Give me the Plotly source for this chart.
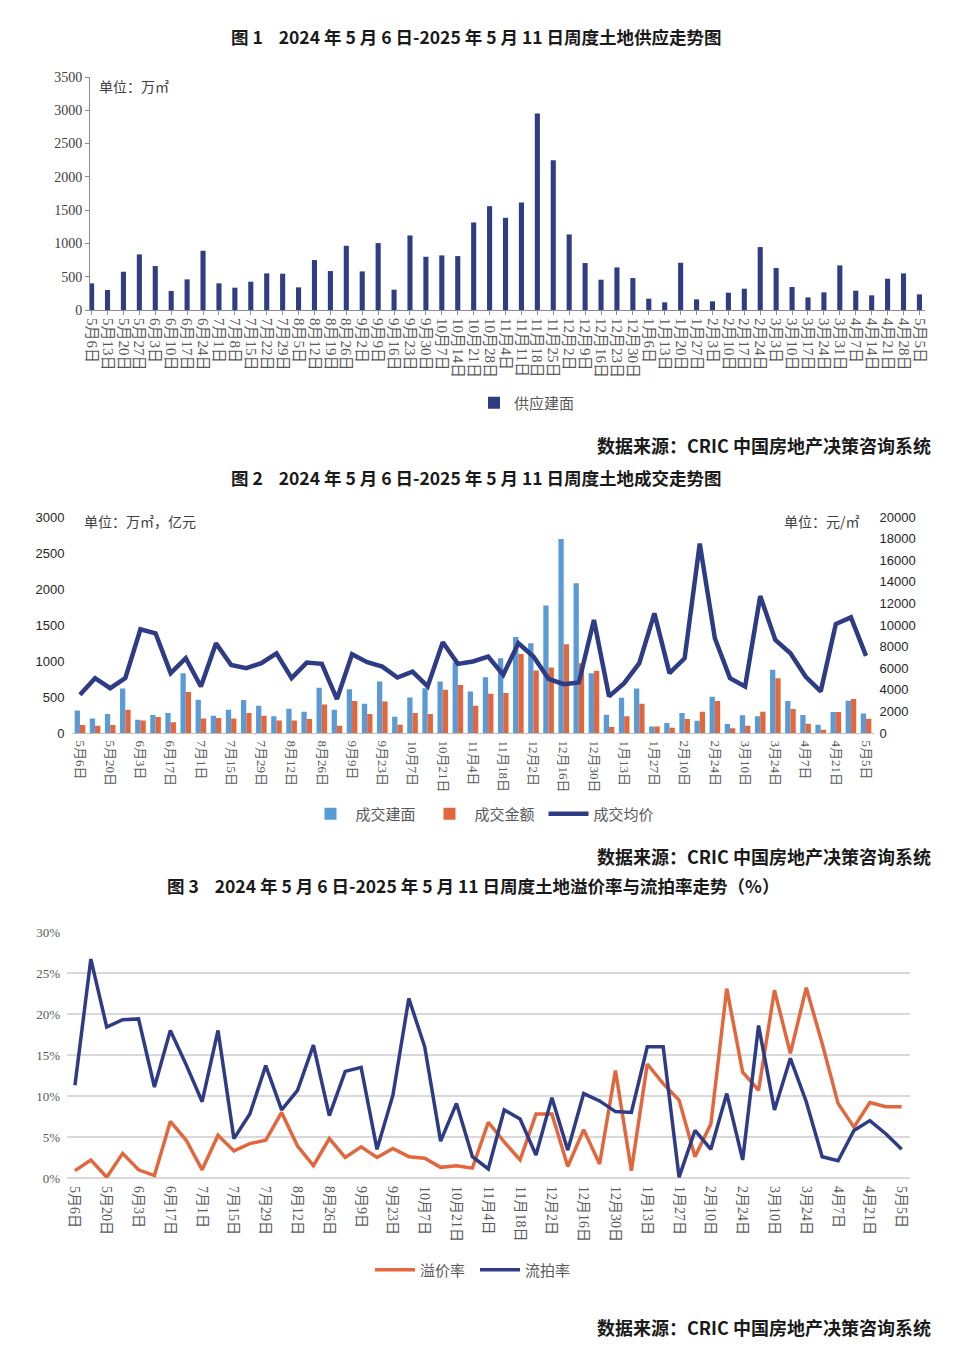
import plotly.graph_objects as go

# ---------------- data ----------------
weeks = ["5月6日", "5月13日", "5月20日", "5月27日", "6月3日", "6月10日", "6月17日", "6月24日",
         "7月1日", "7月8日", "7月15日", "7月22日", "7月29日", "8月5日", "8月12日", "8月19日",
         "8月26日", "9月2日", "9月9日", "9月16日", "9月23日", "9月30日", "10月7日", "10月14日",
         "10月21日", "10月28日", "11月4日", "11月11日", "11月18日", "11月25日", "12月2日", "12月9日",
         "12月16日", "12月23日", "12月30日", "1月6日", "1月13日", "1月20日", "1月27日", "2月3日",
         "2月10日", "2月17日", "2月24日", "3月3日", "3月10日", "3月17日", "3月24日", "3月31日",
         "4月7日", "4月14日", "4月21日", "4月28日", "5月5日"]

supply_area = [400, 300, 575, 835, 660, 285, 460, 890, 400, 335, 425, 550, 545, 340, 750, 585,
               965, 580, 1005, 305, 1120, 800, 820, 810, 1315, 1560, 1385, 1615, 2950, 2250, 1135, 705,
               455, 640, 480, 170, 115, 710, 160, 130, 260, 320, 945, 630, 345, 190, 265, 670,
               290, 220, 470, 550, 235]

deal_area = [314, 203, 263, 618, 185, 249, 277, 831, 461, 240, 323, 457, 378, 231, 337, 295,
             628, 323, 609, 406, 715, 226, 494, 623, 715, 980, 577, 775, 1038, 1334, 1246, 1772,
             2695, 2081, 831, 254, 490, 618, 92, 138, 277, 171, 503, 125, 245, 231, 877, 443,
             249, 115, 291, 448, 272]

deal_amount = [111, 101, 111, 323, 175, 221, 148, 568, 203, 208, 203, 277, 240, 175, 175, 194,
               397, 101, 443, 263, 438, 115, 277, 263, 600, 665, 378, 545, 554, 1098, 868, 909,
               1232, 969, 863, 83, 231, 406, 92, 74, 194, 295, 443, 65, 101, 295, 761, 332,
               129, 46, 291, 471, 198]

deal_price = [3540, 5080, 4150, 5080, 9600, 9230, 5540, 6920, 4300, 8300, 6300, 6000, 6460, 7380, 5080, 6520,
              6400, 3140, 7290, 6550, 6150, 5140, 5690, 4310, 8400, 6400, 6620, 7080, 5390, 8310, 7080, 5020,
              4520, 4680, 10460, 3390, 4620, 6460, 11080, 5540, 6920, 17540, 8770, 5080, 4310, 12680, 8620, 7390,
              5230, 3850, 10090, 10710, 7140]

premium_rate = [0.9, 2.2, 0.1, 3.0, 1.0, 0.3, 6.9, 4.6, 1.0, 5.2, 3.3, 4.2, 4.6, 8.0, 3.9, 1.5,
                4.8, 2.5, 3.8, 2.5, 3.6, 2.6, 2.4, 1.3, 1.5, 1.2, 6.8, 4.4, 2.2, 7.8, 7.8, 1.4,
                5.9, 1.7, 13.1, 0.9, 13.9, 11.5, 9.5, 2.6, 6.6, 23.1, 12.9, 10.7, 22.9, 15.2, 23.2, 16.4,
                9.1, 6.2, 9.2, 8.7, 8.7]

fail_rate = [11.3, 26.7, 18.4, 19.3, 19.4, 11.1, 18.0, 13.8, 9.3, 18.0, 4.8, 7.8, 13.7, 8.3, 10.7, 16.2,
             7.6, 13.0, 13.5, 3.5, 10.1, 21.9, 16.0, 4.5, 9.1, 2.6, 1.1, 8.3, 7.2, 2.8, 9.8, 3.4,
             10.3, 9.4, 8.1, 8.0, 16.0, 16.0, 0.1, 5.8, 3.5, 10.3, 2.2, 18.6, 8.3, 14.6, 9.3, 2.6,
             2.1, 5.8, 7.0, 5.4, 3.5]

pct_ticks = [0, 5, 10, 15, 20, 25, 30]
pct_labels = [f"{v}%" for v in pct_ticks]

NB = "\u00a0"
titles = [f"图 1{NB*4}2024 年 5 月 6 日-2025 年 5 月 11 日周度土地供应走势图",
          f"图 2{NB*4}2024 年 5 月 6 日-2025 年 5 月 11 日周度土地成交走势图",
          f"图 3{NB*4}2024 年 5 月 6 日-2025 年 5 月 11 日周度土地溢价率与流拍率走势（%）"]
source_text = "数据来源：CRIC 中国房地产决策咨询系统"

# ---------------- styling ----------------
W, H = 960, 1354
OFF = 8  # page body margin
def fx(p):
    return (p - OFF) / W
def fy(p):
    return 1 - (p - OFF) / H

CJK = "Noto Sans CJK SC"
SERIF = "Liberation Serif, Noto Sans CJK SC"
SANS = "Liberation Sans, Noto Sans CJK SC"
GRAY = "#595959"
NAVY = "#2E3B85"
LBLUE = "#5B9BD5"
ORANGE = "#E2673D"

fig = go.Figure()

# Chart 1
fig.add_trace(go.Bar(x=weeks, y=supply_area, name="供应建面", marker_color="#2F3D82",
                     width=0.32, xaxis="x", yaxis="y", legend="legend"))

# Chart 2
fig.add_trace(go.Bar(x=weeks, y=deal_area, name="成交建面", marker_color=LBLUE,
                     width=0.35, offset=-0.35, xaxis="x2", yaxis="y2", legend="legend2"))
fig.add_trace(go.Bar(x=weeks, y=deal_amount, name="成交金额", marker_color=ORANGE,
                     width=0.35, offset=0.0, xaxis="x2", yaxis="y2", legend="legend2"))
fig.add_trace(go.Scatter(x=weeks, y=deal_price, name="成交均价", mode="lines",
                         line=dict(color=NAVY, width=4.5), xaxis="x2", yaxis="y3", legend="legend2"))

# Chart 3
fig.add_trace(go.Scatter(x=weeks, y=premium_rate, name="溢价率", mode="lines",
                         line=dict(color=ORANGE, width=3.5), xaxis="x3", yaxis="y4", legend="legend3"))
fig.add_trace(go.Scatter(x=weeks, y=fail_rate, name="流拍率", mode="lines",
                         line=dict(color=NAVY, width=3.5), xaxis="x3", yaxis="y4", legend="legend3"))

fig.update_layout(
    template="none",
    width=W, height=H,
    margin=dict(l=0, r=0, t=0, b=0, pad=0),
    paper_bgcolor="white", plot_bgcolor="white",
    font=dict(family=CJK, color="#333333"),
    showlegend=True,
    xaxis=dict(domain=[fx(90), fx(925)], anchor="y", type="category", categoryorder="array",
               categoryarray=weeks, range=[-0.1, 52.35], tickangle=90,
               tickfont=dict(family=SERIF, size=15, color=GRAY), automargin=False,
               showline=True, linecolor="#8c8c8c", linewidth=1, ticks="outside", ticklen=4,
               tickcolor="#8c8c8c", showgrid=False, zeroline=False,
               tickmode="array", tickvals=weeks, ticktext=weeks),
    yaxis=dict(domain=[fy(310), fy(77)], anchor="x", range=[0, 3500], tickvals=list(range(0, 3501, 500)),
               tickfont=dict(family=SERIF, size=14, color="#404040"), showline=True, linecolor="#8c8c8c",
               linewidth=1, ticks="outside", ticklen=4, tickcolor="#8c8c8c", showgrid=False, zeroline=False,
               automargin=False),
    xaxis2=dict(domain=[fx(72.4), fx(873.6)], anchor="y2", type="category", categoryorder="array",
                categoryarray=weeks, range=[-0.5, 52.5], tickangle=90,
                tickfont=dict(family=SERIF, size=13, color=GRAY), automargin=False, ticklabelstandoff=4,
                tickmode="array", tickvals=weeks[::2], ticktext=weeks[::2],
                showline=True, linecolor="#bfbfbf", linewidth=1, ticks="", showgrid=False, zeroline=False),
    yaxis2=dict(domain=[fy(733), fy(517)], anchor="x2", range=[0, 3000], tickvals=list(range(0, 3001, 500)),
                tickformat="d", tickfont=dict(family=SANS, size=13, color="#262626"), showline=False,
                showgrid=False, zeroline=False, ticks="", automargin=False, ticklabelstandoff=7),
    yaxis3=dict(overlaying="y2", side="right", anchor="x2", range=[0, 20000],
                tickvals=list(range(0, 20001, 2000)), tickformat="d",
                tickfont=dict(family=SANS, size=13, color="#262626"), ticklabelstandoff=5,
                showline=False, showgrid=False, zeroline=False, ticks="", automargin=False),
    xaxis3=dict(domain=[fx(67), fx(909.6)], anchor="y4", type="category", categoryorder="array",
                categoryarray=weeks, range=[-0.5, 52.5], tickangle=90,
                tickfont=dict(family=SERIF, size=14, color=GRAY), automargin=False, ticklabelstandoff=7,
                tickmode="array", tickvals=weeks[::2], ticktext=weeks[::2],
                showline=False, ticks="", showgrid=False, zeroline=False),
    yaxis4=dict(domain=[fy(1178), fy(932)], anchor="x3", range=[0, 30], tickvals=pct_ticks, ticktext=pct_labels,
                tickfont=dict(family=SERIF, size=13, color=GRAY), showgrid=True, gridcolor="#D9D9D9",
                gridwidth=1.5, zeroline=True, zerolinecolor="#D9D9D9", zerolinewidth=1.5, ticks="",
                showline=False, automargin=False, ticklabelstandoff=6),
    legend=dict(orientation="h", x=fx(527), y=fy(403), xanchor="center", yanchor="middle",
                font=dict(family=CJK, size=15, color=GRAY), bgcolor="rgba(0,0,0,0)"),
    legend2=dict(orientation="h", x=fx(484), y=fy(814), xanchor="center", yanchor="middle",
                 font=dict(family=CJK, size=15, color=GRAY), itemwidth=40, entrywidth=64,
                 bgcolor="rgba(0,0,0,0)", traceorder="normal"),
    legend3=dict(orientation="h", x=fx(475), y=fy(1270), xanchor="center", yanchor="middle",
                 font=dict(family=CJK, size=15, color=GRAY), itemwidth=40, entrywidth=50,
                 bgcolor="rgba(0,0,0,0)", traceorder="normal"),
)

ann = []
title_y = [36, 477, 886]
title_x = [476, 476, 473]
for t, xx, yy in zip(titles, title_x, title_y):
    ann.append(dict(text=t, x=fx(xx), y=fy(yy), xref="paper", yref="paper", showarrow=False,
                    xanchor="center", yanchor="middle",
                    font=dict(family=CJK, size=17.5, color="#1a1a1a", weight=700)))
for yy in [445, 856, 1327]:
    ann.append(dict(text=source_text, x=fx(933), y=fy(yy), xref="paper", yref="paper", showarrow=False,
                    xanchor="right", yanchor="middle",
                    font=dict(family=CJK, size=18, color="#1a1a1a", weight=700)))
ann.append(dict(text="单位：万㎡", x=fx(97), y=fy(86), xref="paper", yref="paper", showarrow=False,
                xanchor="left", yanchor="middle", font=dict(family=CJK, size=14, color="#404040")))
ann.append(dict(text="单位：万㎡，亿元", x=fx(82), y=fy(521), xref="paper", yref="paper", showarrow=False,
                xanchor="left", yanchor="middle", font=dict(family=CJK, size=14, color="#404040")))
ann.append(dict(text="单位：元/㎡", x=fx(862), y=fy(521), xref="paper", yref="paper", showarrow=False,
                xanchor="right", yanchor="middle", font=dict(family=CJK, size=14, color="#404040")))
fig.update_layout(annotations=ann)

fig.write_html("out.html")
